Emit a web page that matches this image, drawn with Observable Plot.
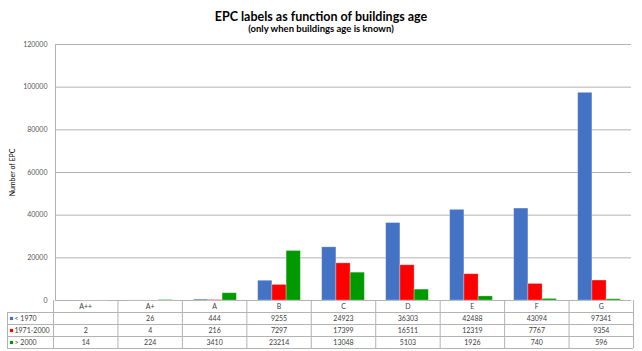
<!DOCTYPE html>
<html><head><meta charset="utf-8">
<script src="https://cdn.jsdelivr.net/npm/d3@7"></script>
<script src="https://cdn.jsdelivr.net/npm/@observablehq/plot@0.6"></script>
<style>
html,body{margin:0;padding:0;background:#fff;}
#wrap{position:relative;width:642px;height:351px;overflow:hidden;font-family:Lato,"Open Sans",sans-serif;}
#title{position:absolute;left:0;width:642px;top:9px;text-align:center;font-weight:bold;font-size:12.5px;color:#000;line-height:16px;}
#subtitle{position:absolute;left:0;width:642px;top:23px;text-align:center;font-weight:bold;font-size:9.5px;color:#000;line-height:12px;}
#chart{position:absolute;left:0;top:36px;}
#table{position:absolute;left:0;top:300px;}
</style></head>
<body><div id="wrap">
<div id="title">EPC labels as function of buildings age</div>
<div id="subtitle">(only when buildings age is known)</div>
<div id="chart"></div>
<div id="table"></div>
</div>
<script>
const categories = ["A++","A+","A","B","C","D","E","F","G"];
const seriesNames = ["< 1970","1971-2000","> 2000"];
const before1970 = [null,26,444,9255,24923,36303,42488,43094,97341];
const from1971to2000 = [2,4,216,7297,17399,16511,12319,7767,9354];
const after2000 = [14,224,3410,23214,13048,5103,1926,740,596];
const seriesColors = ["#4472C4","#FF0000","#009A00"];
const yTicks = [0,20000,40000,60000,80000,100000,120000];

const seriesValues = [before1970, from1971to2000, after2000];
const rows = [];
seriesValues.forEach((vals, s) => vals.forEach((v, c) =>
  rows.push({cat: categories[c], ci: c, series: seriesNames[s], si: s, value: v})));
const present = rows.filter(d => d.value != null);

const gridColor = "#b3b3b3";
const legendEdge = -46 / 64.44;

const chart = Plot.plot({
  width: 642, height: 265,
  marginLeft: 53, marginRight: 9, marginTop: 8, marginBottom: 1,
  style: {fontFamily: "Lato, sans-serif", fontSize: "7px", color: "#595959", background: "transparent", overflow: "visible"},
  fx: {domain: categories, padding: 0, axis: null},
  x: {domain: [-0.75, 3.75], axis: null},
  y: {domain: [0, 120000], ticks: yTicks, tickFormat: d3.format("d"), tickSize: 0, tickPadding: 8,
      label: "Number of EPC", labelAnchor: "center", labelOffset: 45, labelArrow: "none"},
  color: {domain: seriesNames, range: seriesColors},
  marks: [
    Plot.ruleY(yTicks, {stroke: gridColor}),
    Plot.rect(present, {fx: "cat", x1: "si", x2: d => d.si + 1, y1: 0, y2: "value", fill: "series",
      stroke: "#ffffff", strokeOpacity: 0.35, strokeWidth: 0.8}),
    Plot.ruleX([{cat: categories[0], x: -0.75}], {fx: "cat", x: "x", y1: 0, y2: 120000, stroke: gridColor})
  ]
});
document.getElementById("chart").appendChild(chart);
chart.querySelectorAll("[aria-label='y-axis label'] text, g[aria-label='y-axis'] > text").forEach(t => t.setAttribute("fill", "#000"));

const table = Plot.plot({
  width: 642, height: 49,
  marginLeft: 7, marginRight: 9, marginTop: 0, marginBottom: 1,
  style: {fontFamily: "Lato, sans-serif", fontSize: "7px", color: "#404040", background: "transparent", overflow: "visible"},
  x: {domain: [legendEdge, categories.length], axis: null},
  y: {domain: [4, 0], axis: null},
  color: {domain: seriesNames, range: seriesColors},
  marks: [
    Plot.ruleX(d3.range(categories.length + 1), {y1: 0, y2: 4, stroke: gridColor}),
    Plot.ruleX([legendEdge], {y1: 1, y2: 4, stroke: gridColor}),
    Plot.ruleY([1, 2, 3, 4], {x1: legendEdge, x2: categories.length, stroke: gridColor}),
    Plot.text(categories, {x: (d, i) => i + 0.5, y: () => 0.5, text: d => d, fill: "#404040"}),
    Plot.text(present, {x: d => d.ci + 0.5, y: d => d.si + 1.5, text: d => String(d.value), fill: "#404040"}),
    Plot.dot(seriesNames, {x: () => legendEdge, y: (d, i) => i + 1.5, symbol: "square", r: 1.8, dx: 4, fill: d => d}),
    Plot.text(seriesNames, {x: () => legendEdge, y: (d, i) => i + 1.5, dx: 7, textAnchor: "start", text: d => d, fill: "#404040"})
  ]
});
document.getElementById("table").appendChild(table);
</script>
</body></html>
